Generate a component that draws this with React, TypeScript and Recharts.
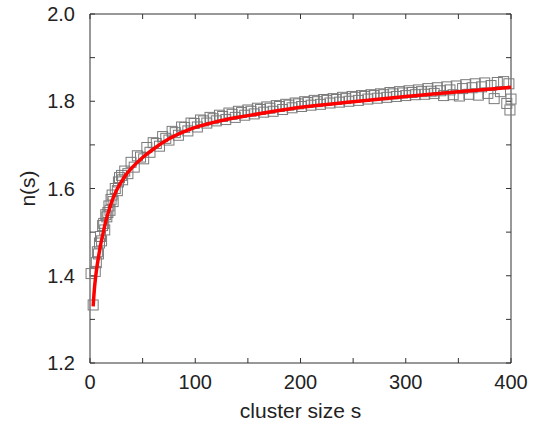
import { ScatterChart, Scatter, XAxis, YAxis, Label } from 'recharts';

const sizes = [
  1, 3, 5, 6, 7, 8, 9, 10, 11, 12, 13, 14, 15, 16, 17, 18, 19, 20, 21, 22, 24, 26, 27, 28, 30, 31,
  33, 36, 39, 42, 45, 48, 51, 54, 57, 60, 63, 66, 69, 72, 75, 78, 81, 84, 87, 90, 93, 96, 99,
  102, 105, 108, 111, 114, 117, 120, 123, 126, 129, 132, 135, 138, 141, 144, 147, 150,
  153, 156, 159, 162, 165, 168, 171, 174, 177, 180, 183, 186, 189, 192, 195, 198, 201,
  204, 207, 210, 213, 216, 219, 222, 225, 228, 231, 234, 237, 240, 243, 246, 249,
  252, 255, 258, 261, 264, 267, 270, 273, 276, 279, 282, 285, 288, 291, 294, 297, 300,
  303, 306, 309, 312, 315, 318, 321, 324, 327, 330, 333, 336, 339, 342, 345, 348, 351,
  354, 357, 360, 363, 366, 369, 372, 375, 378, 381, 384, 387, 390, 393, 396, 398, 399, 400,
];
const nValues = [
  1.405, 1.333, 1.41, 1.43, 1.455, 1.45, 1.475, 1.49, 1.48, 1.515, 1.52, 1.505, 1.54, 1.535, 1.545, 1.56, 1.55, 1.575, 1.585, 1.57, 1.6, 1.595, 1.615, 1.625, 1.63, 1.62,
  1.64, 1.634, 1.66, 1.649, 1.675, 1.672, 1.668, 1.694, 1.683, 1.705, 1.703, 1.697, 1.719, 1.715, 1.711, 1.731, 1.728, 1.722, 1.741, 1.74, 1.732, 1.75, 1.749,
  1.741, 1.757, 1.755, 1.75, 1.763, 1.76, 1.755, 1.768, 1.765, 1.758, 1.773, 1.77, 1.763, 1.777, 1.774, 1.768, 1.78,
  1.777, 1.771, 1.784, 1.781, 1.775, 1.787, 1.784, 1.777, 1.79, 1.788, 1.781, 1.793, 1.791, 1.785, 1.796, 1.794, 1.788,
  1.799, 1.797, 1.791, 1.802, 1.799, 1.793, 1.804, 1.802, 1.796, 1.806, 1.804, 1.798, 1.809, 1.806, 1.8, 1.811,
  1.809, 1.802, 1.813, 1.811, 1.805, 1.815, 1.813, 1.807, 1.817, 1.815, 1.809, 1.82, 1.817, 1.811, 1.822, 1.819, 1.813,
  1.824, 1.82, 1.815, 1.826, 1.822, 1.816, 1.829, 1.823, 1.818, 1.831, 1.824, 1.813, 1.833, 1.826, 1.815, 1.835, 1.812,
  1.829, 1.838, 1.816, 1.831, 1.84, 1.814, 1.833, 1.842, 1.818, 1.836, 1.806, 1.843, 1.822, 1.845, 1.795, 1.84, 1.78, 1.805,
];

// fitted curve, read at a few sizes
const fitSizes = [3, 4, 5, 6, 8, 10, 12, 15, 18, 21, 25, 30, 35, 40, 50, 60, 75, 90, 100, 125, 150, 175, 200, 250, 300, 350, 400];
const fitValues = [
  1.33, 1.365, 1.39, 1.41, 1.442, 1.47, 1.492, 1.525, 1.55, 1.572, 1.595, 1.616, 1.634, 1.648, 1.671, 1.69, 1.714, 1.731,
  1.74, 1.756, 1.767, 1.777, 1.786, 1.799, 1.811, 1.822, 1.832,
];

const xTicks = [0, 50, 100, 150, 200, 250, 300, 350, 400];
const yTicks = [1.2, 1.3, 1.4, 1.5, 1.6, 1.7, 1.8, 1.9, 2.0];

const points = sizes.map((s, i) => ({ s, n: nValues[i] }));
const fit = fitSizes.map((s, i) => ({ s, n: fitValues[i] }));

const FONT = '"Liberation Sans", Arial, Helvetica, sans-serif';
const AXIS = '#333';

const Square = (props: any) => {
  const { cx, cy } = props;
  if (cx == null || cy == null) return <g />;
  return <rect x={cx - 5} y={cy - 5} width={10} height={10} fill="none" stroke="#7a7a7a" strokeWidth={1} />;
};

const YTitle = (props: any) => {
  const { viewBox } = props;
  const cy = viewBox.y + viewBox.height / 2;
  const x = viewBox.x + 35;
  return (
    <text x={x} y={cy} transform={`rotate(-90, ${x}, ${cy})`} textAnchor="middle" fontSize={21} fontFamily={FONT} fill="#222">
      n(s)
    </text>
  );
};

export default function App() {
  const xFmt = (v: number) => (v % 100 === 0 ? String(v) : '');
  const yFmt = (v: number) => (Math.round(v * 10) % 2 === 0 ? v.toFixed(1) : '');
  return (
    <div style={{ position: 'absolute', left: 0, top: 0, background: '#fff' }}>
      <ScatterChart width={540} height={426} margin={{ top: 13, right: 28, bottom: 0, left: 0 }}>
        <XAxis
          xAxisId="x"
          dataKey="s"
          type="number"
          domain={[0, 400]}
          ticks={xTicks}
          tickFormatter={xFmt}
          interval={0}
          height={63}
          tickSize={-5}
          tickMargin={17}
          stroke={AXIS}
          tick={{ fill: '#222', fontSize: 20, fontFamily: FONT }}
        >
          <Label value="cluster size s" position="insideBottom" offset={8} fill="#222" fontSize={21} fontFamily={FONT} />
        </XAxis>
        <XAxis
          xAxisId="top"
          orientation="top"
          dataKey="s"
          type="number"
          domain={[0, 400]}
          ticks={xTicks}
          tickFormatter={() => ''}
          interval={0}
          height={1}
          tickSize={-5}
          stroke={AXIS}
        />
        <YAxis
          yAxisId="y"
          dataKey="n"
          type="number"
          domain={[1.2, 2.0]}
          ticks={yTicks}
          tickFormatter={yFmt}
          interval={0}
          width={90}
          tickSize={-5}
          tickMargin={20}
          stroke={AXIS}
          tick={{ fill: '#222', fontSize: 20, fontFamily: FONT }}
        >
          <Label content={<YTitle />} />
        </YAxis>
        <YAxis
          yAxisId="right"
          orientation="right"
          dataKey="n"
          type="number"
          domain={[1.2, 2.0]}
          ticks={yTicks}
          tickFormatter={() => ''}
          interval={0}
          width={1}
          tickSize={-5}
          stroke={AXIS}
        />
        <Scatter xAxisId="x" yAxisId="y" data={points} shape={<Square />} isAnimationActive={false} />
        <Scatter
          xAxisId="top"
          yAxisId="right"
          data={fit}
          shape={() => <g />}
          line={{ stroke: '#ff0000', strokeWidth: 3.5 }}
          lineJointType="monotoneX"
          isAnimationActive={false}
        />
      </ScatterChart>
    </div>
  );
}
